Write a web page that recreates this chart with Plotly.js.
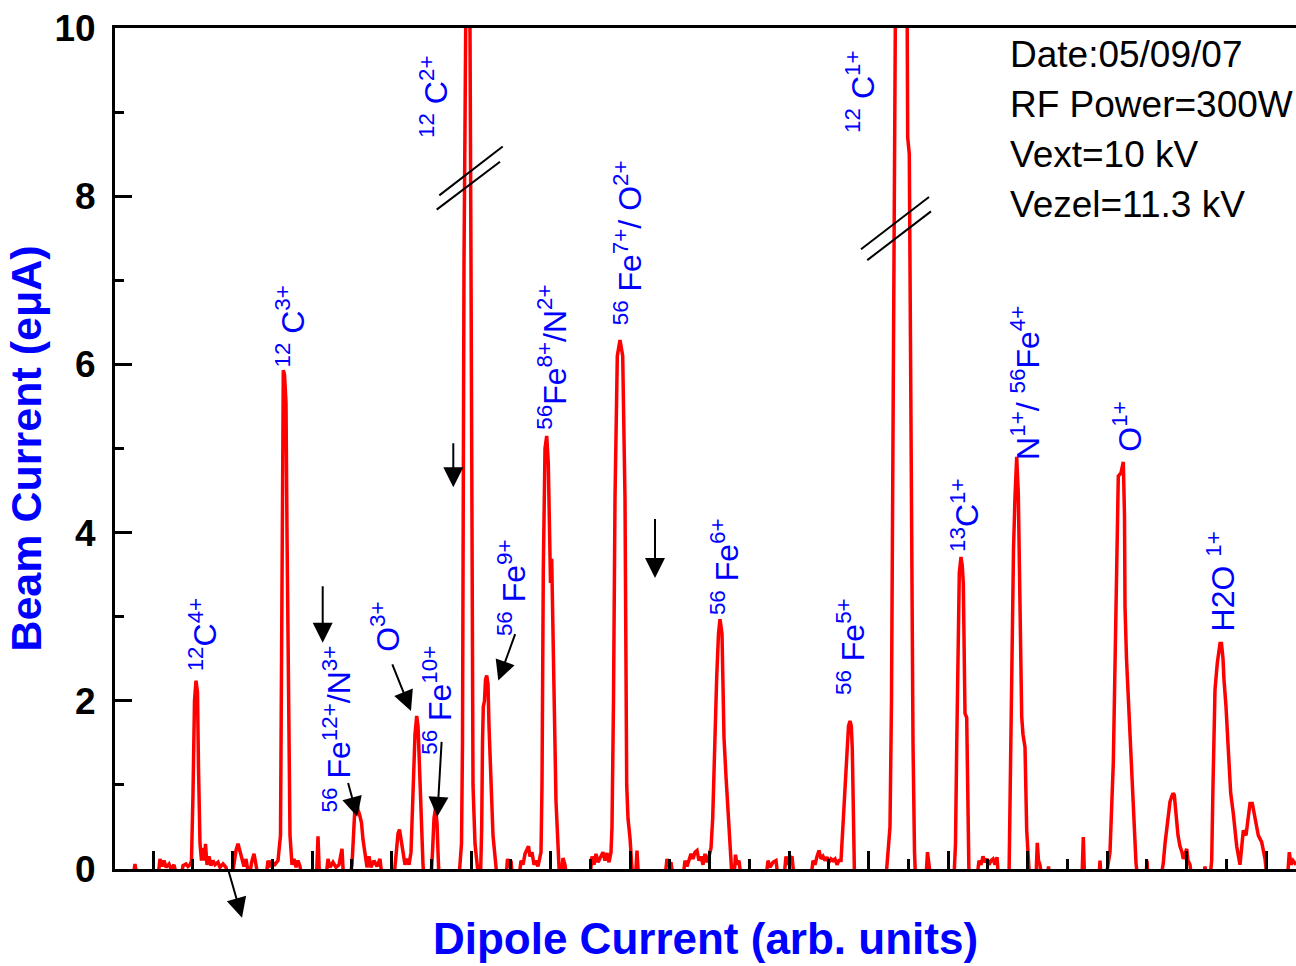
<!DOCTYPE html>
<html>
<head>
<meta charset="utf-8">
<script src="https://cdn.plot.ly/plotly-3.0.1.min.js"></script>
<style>
  html, body { margin: 0; padding: 0; background: #ffffff; }
  #chart { width: 1296px; height: 966px; }
</style>
</head>
<body>
<div id="chart"></div>
<script>
// ---- Data (x in arbitrary dipole units) ----
const dipoleCurrent = [
  133,135,137,
  158,160,162,164,166,169,171,174,177,
  181,183,186,188,190,191.5,
  193,194.5,196,197.5,198.5,200,201.5,
  203,204.5,205.5,207,209,211,213,215,218,220,223,226,228,
  232,234,236,238,240,242,244,246,247.5,249,252,254,256,258,
  266,268,270,272,274,276,278,
  280.5,281.5,282.5,283.3,284.5,286,287,288.5,290,292,294,296,298,300,302,
  316.5,318,319.5,
  326,328,330,333,336,339,342,343.5,
  350,352,353.5,355,356.7,358,359.5,361.5,363,365,367,369,371,374,377,380,382,
  394,396,398,399.5,401,403,405,407,409,
  411,413,415,416.7,418,419,420.5,421.7,423,424,
  431,432.5,434,435.5,437,438,439,
  459,461.5,462.5,463.2,464,465.7,467.5,469,470,471,472,473,475,477,478.5,
  480.5,481.7,482.5,483.3,484.5,485.5,486.7,488,489,490,491.7,493,495,497,
  506,507.5,509,511,512.5,
  519,521,523,525,527,528.5,530,532,534,536,538,540,541,
  542,543.3,545,546.7,548.3,549.5,550.5,551.7,553,554.5,556,558,559.5,
  561,563,565,566.5,
  590,592,594,596,598,601,603,605,607,609,611,
  612,613.5,615,617.3,620,622.7,625,626,626.7,628,630,631.7,633,
  635.5,637,638.5,
  665,667,669,671,673,
  683,685,687,689,691,693,695,697,699,701,703,705,707,709,711,
  712.7,714.5,716.7,718.5,720,722,723,724,726,728.3,730.7,732,
  734,735.5,737,739,741,
  766,768,770,773,776,778,
  784,786,788,790,792,794,
  811,813,815,817,819,821,823,825,827,829,831,833,835,837,839,841,
  842.5,845,847,848.5,850,851.3,852.3,853.3,854.5,
  886,887.5,889,890,891.5,893,894.5,895.3,897,901,905,907.3,907.7,909.3,910,911.5,913,914.5,915.5,
  926,927.5,929,930.5,
  954,955.5,956.7,958,959.3,961,962.3,963.3,964.2,965,966.7,967.5,968.3,969,
  977,979,981,983,985,987,989,991,993,995,997,998.5,
  1009,1010.7,1012.3,1013.5,1015,1016.7,1018.3,1020,1021.7,1023,1025,1026.7,1028.5,1029.5,
  1036,1037.3,1038.5,1040,1041.5,
  1047.5,1048.5,1049.5,
  1082,1083.3,1084.5,
  1099,1100,1101,
  1106,1108,1110,1113.3,1116.7,1118.3,1121,1123.3,1124.5,1125,1126.5,1128.3,1130.7,1133.3,1136,1137.5,
  1146,1147,1148,
  1161,1163.3,1165,1168.3,1170,1171.7,1173,1174.3,1175.5,1176.7,1178,1180,1182,1183.3,1185,1186.7,1188,1190,1191.5,
  1203.5,1205,1206.5,
  1210,1211.7,1213,1215,1217.3,1219,1220,1221.5,1223,1224,1226,1228.3,1230.7,1233.3,1236.7,1240,1241.5,1243.3,1246,1248,1250,1252.3,1255,1258.3,1261.7,1265,1267,
  1287.5,1289.3,1291,1293,1296
];
const beamCurrent = [
  -0.1,0.06,-0.1,
  -0.1,0.12,0.03,0.1,0.02,0.06,0.0,0.05,-0.1,
  -0.1,0.04,0.06,0.03,0.05,0.1,
  0.9,2.0,2.24,2.1,1.2,0.3,0.1,
  0.25,0.1,0.3,0.05,0.15,0.04,0.1,0.05,0.08,0.02,0.06,0.02,-0.1,
  -0.1,0.1,0.22,0.3,0.2,0.1,0.03,0.12,0.02,-0.1,0.1,0.18,0.05,-0.1,
  -0.1,0.1,0.02,0.1,0.04,0.08,0.1,
  0.4,3.0,5.6,5.93,5.88,5.55,4.0,1.5,0.4,0.05,0.12,0.02,0.1,0.03,-0.1,
  -0.1,0.39,-0.1,
  -0.1,0.12,0.02,0.08,0.02,0.05,0.24,-0.1,
  -0.1,0.05,0.5,0.75,0.82,0.7,0.65,0.55,0.35,0.15,0.02,0.15,0.02,0.1,0.03,0.12,-0.1,
  -0.1,0.2,0.42,0.47,0.35,0.15,0.05,0.12,0.05,
  0.2,0.9,1.6,1.82,1.7,1.38,0.8,0.36,0.05,-0.1,
  -0.1,0.2,0.6,0.72,0.55,0.2,-0.1,
  -0.1,0.3,1.5,4,7.2,10,11.5,11,10,7.2,4,1.0,0.3,0.05,-0.1,
  -0.1,0.5,1.5,1.93,2.0,2.25,2.30,2.2,1.7,1.34,0.73,0.4,0.15,-0.1,
  -0.1,0.12,0.02,0.1,-0.1,
  -0.1,0.1,0.05,0.18,0.22,0.27,0.15,0.2,0.05,0.1,0.03,0.12,0.2,
  1.0,3.55,5.0,5.15,4.83,4.0,3.4,3.69,3.0,1.8,0.8,0.15,-0.1,
  -0.1,0.13,0.05,-0.1,
  -0.1,0.15,0.05,0.18,0.08,0.15,0.2,0.1,0.19,0.08,0.2,
  0.5,2.0,4.4,6.1,6.29,6.1,4.4,2.5,1.0,0.6,0.37,0.05,-0.1,
  -0.1,0.22,-0.1,
  -0.1,0.12,0.03,0.08,-0.1,
  -0.1,0.1,0.03,0.12,0.18,0.12,0.2,0.22,0.1,0.15,0.05,0.18,0.08,0.15,0.25,
  0.6,1.5,2.28,2.8,2.97,2.80,2.2,1.56,1.1,0.58,0.12,-0.1,
  -0.1,0.17,0.05,0.1,-0.1,
  -0.1,0.1,0.02,0.08,0.1,-0.1,
  -0.1,0.15,0.05,0.12,0.15,-0.1,
  -0.1,0.1,0.05,0.15,0.22,0.12,0.15,0.1,0.14,0.08,0.12,0.1,0.12,0.05,0.1,0.1,
  0.4,1.01,1.4,1.7,1.76,1.7,1.43,0.6,-0.1,
  -0.1,0.1,0.3,0.5,2,5,8.5,10,16,20,16,10,8.7,8.5,6.8,4,1.5,0.2,-0.1,
  -0.1,0.2,0.05,-0.1,
  -0.1,0.3,1.45,2.8,3.52,3.71,3.6,3.4,2.5,1.85,1.8,0.8,0.1,-0.1,
  -0.1,0.1,0.05,0.15,0.08,0.12,0.05,0.1,0.12,0.05,0.14,-0.1,
  -0.1,1.62,2.84,3.8,4.43,4.90,4.47,3.24,1.81,1.6,1.45,0.46,0.05,-0.1,
  -0.1,0.31,0.1,0.05,-0.1,
  -0.1,0.03,-0.1,
  -0.1,0.38,-0.1,
  -0.1,0.1,-0.1,
  -0.1,0.05,0.2,1.26,3.44,4.67,4.71,4.84,4.2,3.12,2.5,2.05,1.26,0.66,0.07,-0.1,
  -0.1,0.1,-0.1,
  -0.1,0.07,0.3,0.62,0.8,0.86,0.9,0.88,0.7,0.55,0.4,0.27,0.2,0.12,0.18,0.24,0.1,0.05,-0.1,
  -0.1,0.03,-0.1,
  -0.1,0.1,1.0,2.13,2.45,2.6,2.68,2.68,2.5,2.25,1.93,1.42,0.90,0.66,0.27,0.05,0.2,0.46,0.40,0.6,0.78,0.78,0.58,0.40,0.32,0.12,-0.1,
  -0.1,0.2,0.05,0.1,0.05
];

// Ion labels (text) and where they sit (dipole units, beam current)
const ionLabels = [
  '<sup>12</sup>C<sup>4+</sup>',
  '<sup>12</sup> C<sup>3+</sup>',
  '<sup>56</sup> Fe<sup>12+</sup>/N<sup>3+</sup>',
  'O<sup>3+</sup>',
  '<sup>56</sup> Fe<sup>10+</sup>',
  '<sup>12</sup> C<sup>2+</sup>',
  '<sup>56</sup> Fe<sup>9+</sup>',
  '<sup>56</sup>Fe<sup>8+</sup>/N<sup>2+</sup>',
  '<sup>56</sup> Fe<sup>7+</sup>/ O<sup>2+</sup>',
  '<sup>56</sup> Fe<sup>6+</sup>',
  '<sup>56</sup> Fe<sup>5+</sup>',
  '<sup>12</sup> C<sup>1+</sup>',
  '<sup>13</sup>C<sup>1+</sup>',
  'N<sup>1+</sup>/ <sup>56</sup>Fe<sup>4+</sup>',
  'O<sup>1+</sup>',
  'H2O <sup>1+</sup>'
];
const ionLabelX = [203, 290, 337, 385, 437, 434, 512, 552, 628, 725, 851, 860, 965, 1025, 1127, 1221];
const ionLabelY = [2.79, 6.45, 1.66, 2.88, 2.00, 9.18, 3.34, 6.08, 7.44, 3.59, 2.64, 9.24, 4.21, 5.78, 5.26, 3.42];

// Arrows: tail (x0,y0) -> tip (x1,y1)
const arrowTailX = [228, 322.7, 347.7, 391.7, 441.7, 453.3, 515.7, 655];
const arrowTailY = [0.0, 3.38, 1.04, 2.45, 1.53, 5.08, 2.81, 4.18];
const arrowTipX  = [242, 322.7, 357.3, 411, 437.3, 453.3, 498.3, 655];
const arrowTipY  = [-0.58, 2.69, 0.62, 1.88, 0.62, 4.54, 2.24, 3.46];

// Axis-break marks on the two off-scale peaks
const breakX0 = [436.7, 439.3, 861, 867.3];
const breakY0 = [7.84, 8.01, 7.37, 7.24];
const breakX1 = [500, 502.7, 929, 931];
const breakY1 = [8.41, 8.59, 7.99, 7.82];

const infoLines = ['Date:05/09/07', 'RF Power=300W', 'Vext=10 kV', 'Vezel=11.3 kV'];
const infoY = [9.69, 9.09, 8.50, 7.90];

const yTickVals = [0, 2, 4, 6, 8, 10];
const yTickText = ['0', '2', '4', '6', '8', '10'];

// ---- Build figure ----
const FONT = 'Liberation Sans, Arial, sans-serif';
const annotations = [];
ionLabels.forEach((t, i) => {
  annotations.push({
    x: ionLabelX[i], y: ionLabelY[i], xref: 'x', yref: 'y',
    text: t, showarrow: false, textangle: -90,
    xanchor: 'center', yanchor: 'middle',
    font: { family: FONT, size: 32, color: '#0000ff' }
  });
});
arrowTipX.forEach((x, i) => {
  annotations.push({
    x: x, y: arrowTipY[i], ax: arrowTailX[i], ay: arrowTailY[i],
    xref: 'x', yref: 'y', axref: 'x', ayref: 'y',
    text: '', showarrow: true, arrowhead: 2, arrowsize: 2, arrowwidth: 2,
    arrowcolor: '#000000', standoff: 0
  });
});
infoLines.forEach((t, i) => {
  annotations.push({
    x: 1008, y: infoY[i], xref: 'x', yref: 'y',
    text: t, showarrow: false, xanchor: 'left', yanchor: 'middle',
    font: { family: FONT, size: 37, color: '#000000' }
  });
});

const shapes = breakX0.map((x0, i) => ({
  type: 'line', xref: 'x', yref: 'y',
  x0: x0, y0: breakY0[i], x1: breakX1[i], y1: breakY1[i],
  line: { color: '#000000', width: 2 }
}));

const trace = {
  x: dipoleCurrent, y: beamCurrent,
  type: 'scatter', mode: 'lines',
  line: { color: '#ff0000', width: 3.5 },
  hoverinfo: 'skip'
};

const layout = {
  width: 1296, height: 966,
  margin: { l: 115, r: 0, t: 28, b: 97, pad: 0 },
  paper_bgcolor: '#ffffff', plot_bgcolor: '#ffffff',
  showlegend: false,
  xaxis: {
    range: [115, 1296], autorange: false,
    showgrid: false, zeroline: false,
    showline: true, linecolor: '#000000', linewidth: 3, mirror: true,
    ticks: 'inside', tick0: 153, dtick: 79.5, ticklen: 18, tickwidth: 3, tickcolor: '#000000',
    minor: { ticks: 'inside', tick0: 153, dtick: 39.75, ticklen: 10, tickwidth: 3, tickcolor: '#000000', showgrid: false },
    showticklabels: false,
    title: { text: 'Dipole Current (arb. units)', standoff: 53,
             font: { family: FONT, size: 44, color: '#0000ff', weight: 'bold' } }
  },
  yaxis: {
    range: [0, 10], autorange: false,
    showgrid: false, zeroline: false,
    showline: true, linecolor: '#000000', linewidth: 3, mirror: false,
    ticks: 'inside', tickmode: 'array', tickvals: yTickVals, ticktext: yTickText,
    ticklen: 17, tickwidth: 3, tickcolor: '#000000',
    minor: { ticks: 'inside', tickmode: 'array', tickvals: [1, 3, 5, 7, 9], ticklen: 9, tickwidth: 3, tickcolor: '#000000', showgrid: false },
    ticklabelstandoff: 9,
    tickfont: { family: FONT, size: 37, color: '#000000', weight: 'bold' },
    title: { text: 'Beam Current (eμA)', standoff: 0,
             font: { family: FONT, size: 43, color: '#0000ff', weight: 'bold' } }
  },
  annotations: annotations,
  shapes: shapes
};

Plotly.newPlot('chart', [trace], layout, { displayModeBar: false, staticPlot: true });
</script>
</body>
</html>
